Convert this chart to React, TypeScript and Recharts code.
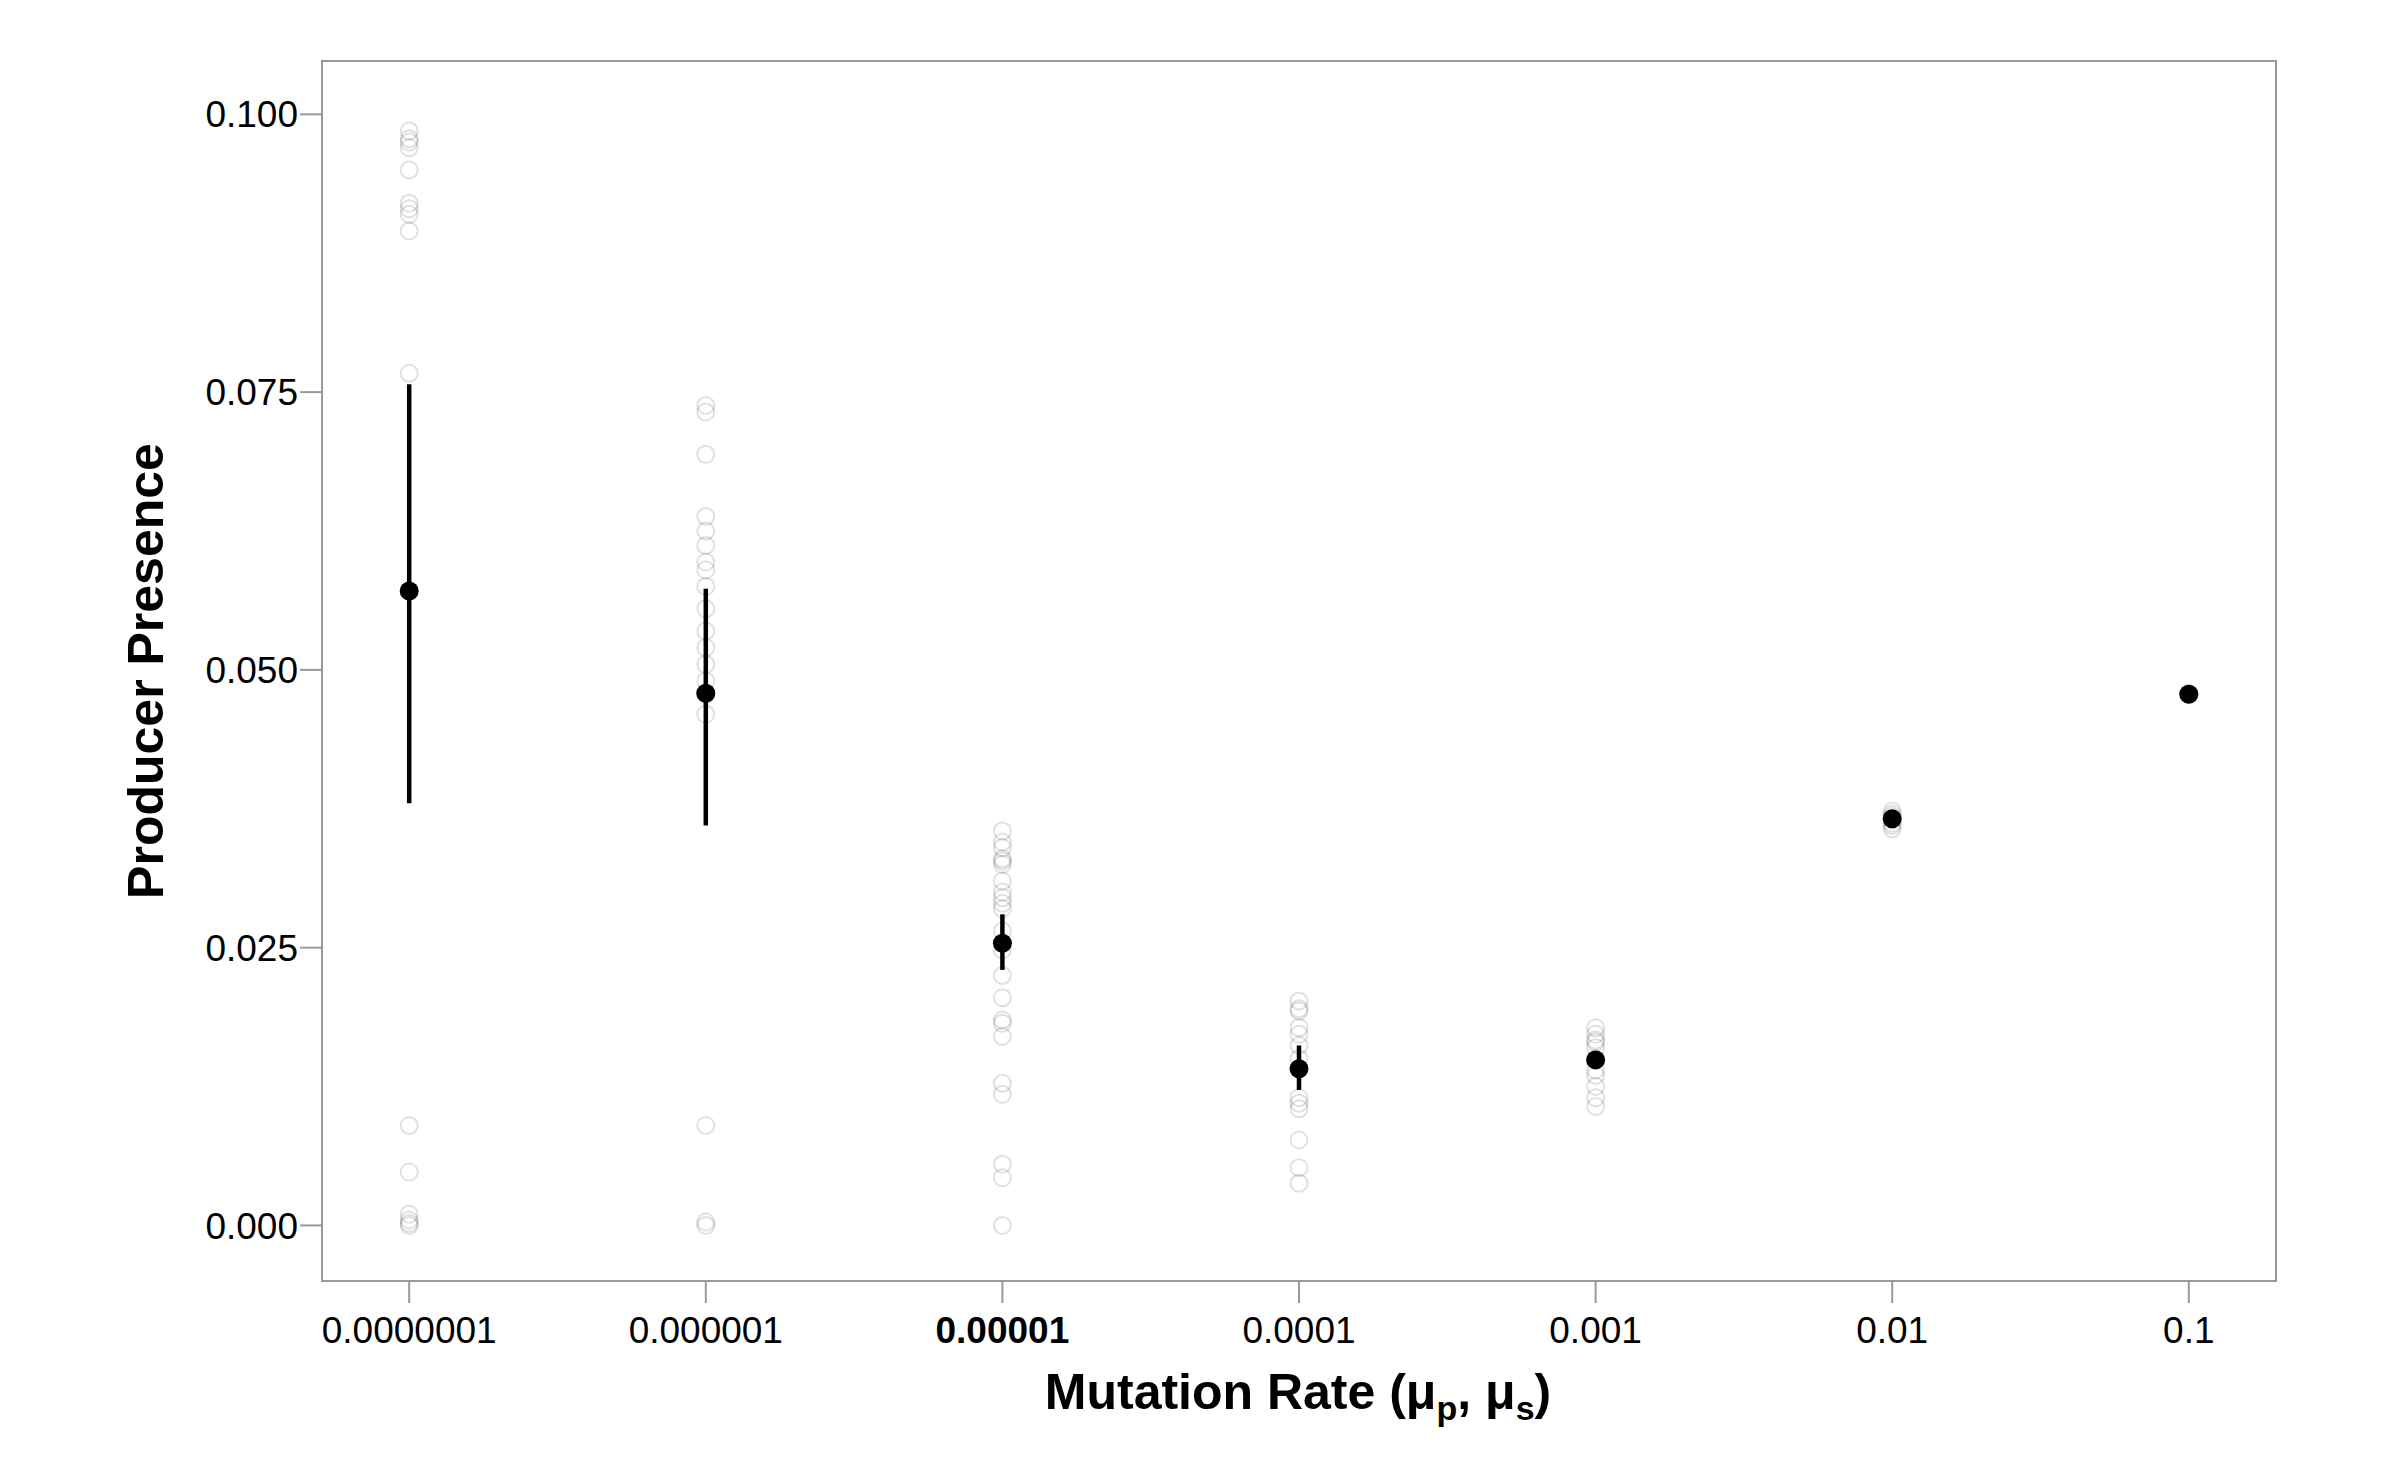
import React from "react";
import {
  ComposedChart,
  ErrorBar,
  ReferenceArea,
  Scatter,
  XAxis,
  YAxis,
} from "recharts";

// mutation rate categories, plotted at positions 0..6
const rateLabels = ["0.0000001", "0.000001", "0.00001", "0.0001", "0.001", "0.01", "0.1"];

// individual runs per rate
const runs: number[][] = [
  [0.0985, 0.0978, 0.0975, 0.097, 0.095, 0.092, 0.0915, 0.091, 0.0895, 0.0767, 0.009, 0.0048, 0.001, 0.0005, 0.0002, 0.0],
  [0.0738, 0.0732, 0.0694, 0.0638, 0.0625, 0.0612, 0.0597, 0.059, 0.0575, 0.0555, 0.0535, 0.052, 0.0505, 0.049, 0.0478, 0.046, 0.009, 0.0003, 0.0],
  [0.0355, 0.0345, 0.034, 0.033, 0.0328, 0.0325, 0.031, 0.03, 0.0295, 0.029, 0.0285, 0.0265, 0.0248, 0.0225, 0.0205, 0.0185, 0.0182, 0.017, 0.0128, 0.0118, 0.0055, 0.0043, 0.0],
  [0.0202, 0.0195, 0.0193, 0.0178, 0.0172, 0.0162, 0.015, 0.0115, 0.011, 0.0105, 0.0077, 0.0052, 0.0038],
  [0.0178, 0.0172, 0.0167, 0.0165, 0.016, 0.015, 0.014, 0.0135, 0.0125, 0.0115, 0.0107],
  [0.0373, 0.037, 0.0368, 0.0365, 0.0362, 0.036, 0.0357],
  [0.0479, 0.0478, 0.0478],
];

const means = [0.0571, 0.0479, 0.0254, 0.0141, 0.0149, 0.0366, 0.0478];
const ciLow = [0.038, 0.036, 0.023, 0.0122, 0.0143, 0.0362, 0.0476];
const ciHigh = [0.0757, 0.0573, 0.028, 0.0162, 0.0155, 0.037, 0.048];

const yTicks = [0, 0.025, 0.05, 0.075, 0.1];

const runPoints = runs.flatMap((vals, i) => vals.map((v) => ({ x: i, y: v })));
const meanPoints = means.map((m, i) => ({
  x: i,
  y: m,
  err: [m - ciLow[i], ciHigh[i] - m],
}));

const font = "'Liberation Sans', Arial, sans-serif";

const XTick = (props: any) => {
  const { x, y, payload } = props;
  return (
    <text
      x={x}
      y={y + 38}
      textAnchor="middle"
      fontSize={37}
      fontFamily={font}
      fontWeight={payload.value === 2 ? "bold" : "normal"}
      fill="#000"
    >
      {rateLabels[payload.value]}
    </text>
  );
};

export default function App() {
  return (
    <div style={{ position: "absolute", left: 0, top: 0, width: 2400, height: 1483, background: "#fff" }}>
      <ComposedChart
        width={2400}
        height={1483}
        margin={{ top: 61, right: 124, bottom: 142, left: 197 }}
      >
        <XAxis
          type="number"
          dataKey="x"
          domain={[-0.294, 6.294]}
          ticks={[0, 1, 2, 3, 4, 5, 6]}
          allowDataOverflow
          height={60}
          axisLine={false}
          tickSize={22}
          tickLine={{ stroke: "#999", strokeWidth: 2 }}
          tick={<XTick />}
        />
        <YAxis
          type="number"
          dataKey="y"
          domain={[-0.005, 0.1048]}
          ticks={yTicks}
          allowDataOverflow
          width={125}
          axisLine={false}
          tickSize={22}
          tickLine={{ stroke: "#999", strokeWidth: 2 }}
          tickFormatter={(v: number) => v.toFixed(3)}
          tick={{ fontSize: 37, fontFamily: font, fill: "#000" }}
        />
        <ReferenceArea
          x1={-0.294}
          x2={6.294}
          y1={-0.005}
          y2={0.1048}
          fill="none"
          stroke="#999"
          strokeWidth={2}
        />
        <Scatter
          data={runPoints}
          isAnimationActive={false}
          shape={(p: any) => (
            <circle cx={p.cx} cy={p.cy} r={8.5} fill="none" stroke="#000" strokeOpacity={0.12} strokeWidth={2} />
          )}
        />
        <Scatter
          data={meanPoints}
          isAnimationActive={false}
          shape={(p: any) => <circle cx={p.cx} cy={p.cy} r={9.5} fill="#000" />}
        >
          <ErrorBar dataKey="err" direction="y" width={0} stroke="#000" strokeWidth={4.5} />
        </Scatter>
      </ComposedChart>
      <div
        style={{
          position: "absolute",
          left: 146,
          top: 671,
          transform: "translate(-50%, -50%) rotate(-90deg)",
          fontFamily: font,
          fontWeight: "bold",
          fontSize: 50,
          whiteSpace: "nowrap",
        }}
      >
        Producer Presence
      </div>
      <div
        style={{
          position: "absolute",
          left: 1298,
          top: 1395,
          transform: "translate(-50%, -50%)",
          fontFamily: font,
          fontWeight: "bold",
          fontSize: 50,
          whiteSpace: "nowrap",
        }}
      >
        Mutation Rate (μ<sub style={{ fontSize: 34 }}>p</sub>, μ<sub style={{ fontSize: 34 }}>s</sub>)
      </div>
    </div>
  );
}
